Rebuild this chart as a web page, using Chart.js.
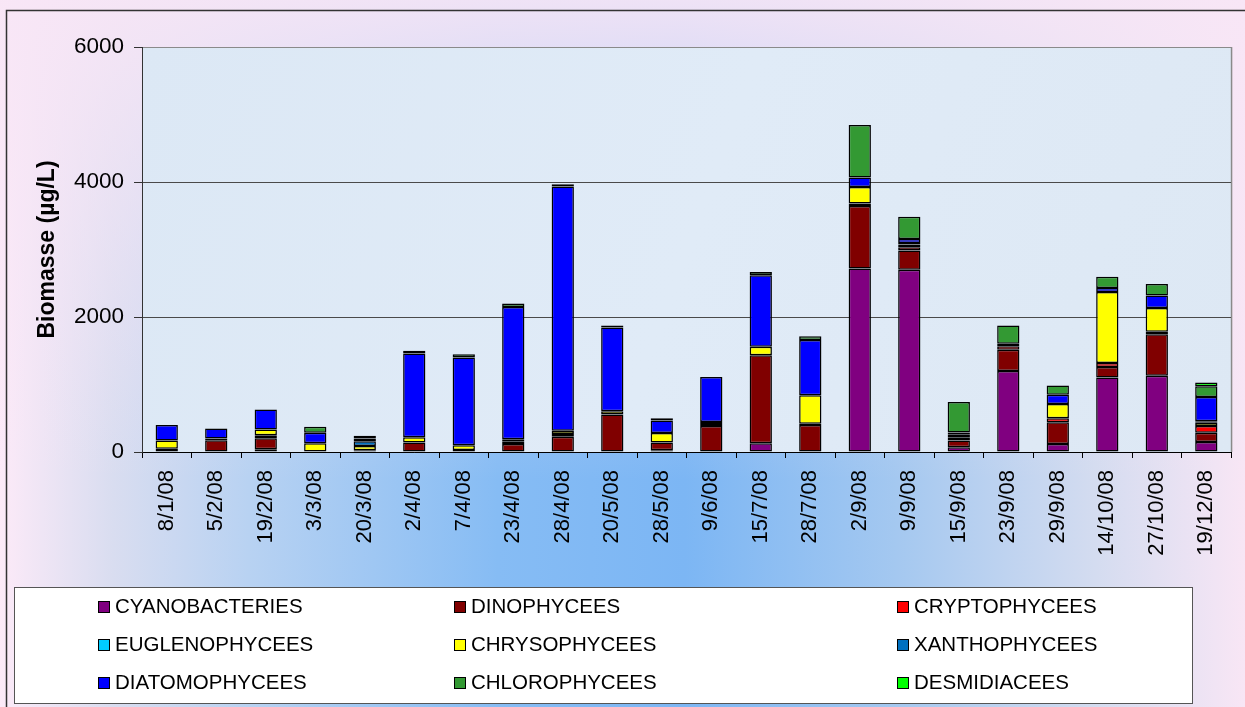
<!DOCTYPE html>
<html><head><meta charset="utf-8">
<script src="https://cdn.jsdelivr.net/npm/chart.js@4"></script>
<style>html,body{margin:0;padding:0;background:#fff}canvas{display:block}</style>
</head><body>
<canvas id="c" width="1245" height="707"></canvas>
<script>
const categories = ['8/1/08','5/2/08','19/2/08','3/3/08','20/3/08','2/4/08','7/4/08','23/4/08','28/4/08','20/5/08','28/5/08','9/6/08','15/7/08','28/7/08','2/9/08','9/9/08','15/9/08','23/9/08','29/9/08','14/10/08','27/10/08','19/12/08'];
const cyanobacteries  = [0,0,40,0,0,0,0,0,0,0,25,0,130,0,2720,2700,70,1200,120,1105,1130,150];
const dinophycees     = [0,175,165,0,25,140,30,120,225,555,115,385,1305,400,925,285,100,315,320,155,615,135];
const cryptophycees   = [50,25,45,0,0,0,0,40,40,0,0,30,0,20,35,50,40,50,60,60,35,100];
const euglenophycees  = [0,0,0,0,0,0,0,0,0,0,0,0,0,0,0,0,0,0,0,0,0,0];
const chrysophycees   = [120,0,85,130,65,80,70,30,50,50,140,30,125,420,245,40,0,40,210,1050,355,50];
const xanthophycees   = [0,0,0,0,70,0,0,0,0,0,0,0,0,0,0,20,45,0,0,0,0,20];
const diatomophycees  = [230,150,295,155,40,1240,1300,1960,3620,1240,185,665,1060,820,140,60,35,0,140,60,185,360];
const chlorophycees   = [0,0,0,90,40,40,50,50,30,30,35,0,45,55,780,330,450,270,135,165,170,160];
const desmidiacees    = [0,0,0,0,0,0,0,0,0,0,0,0,0,0,0,0,0,0,0,0,0,55];
const seriesNames  = ['CYANOBACTERIES','DINOPHYCEES','CRYPTOPHYCEES','EUGLENOPHYCEES','CHRYSOPHYCEES','XANTHOPHYCEES','DIATOMOPHYCEES','CHLOROPHYCEES','DESMIDIACEES'];
const seriesValues = [cyanobacteries,dinophycees,cryptophycees,euglenophycees,chrysophycees,xanthophycees,diatomophycees,chlorophycees,desmidiacees];
const seriesColors = ['#800080','#800000','#FF0000','#00CCFF','#FFFF00','#0070C0','#0000FF','#339933','#00FF00'];
const yTickValues = [0,2000,4000,6000];

const FONT = '"Liberation Sans", Arial, sans-serif';

const bgPlugin = {
  id: 'bg',
  beforeDraw(chart) {
    const ctx = chart.ctx, W = chart.width, H = chart.height;
    ctx.save();
    const g = ctx.createLinearGradient(0, 0, W, 0);
    g.addColorStop(0, '#FCEAF8');
    g.addColorStop(0.09, '#D9DDF0');
    g.addColorStop(0.2, '#B8D2F2');
    g.addColorStop(0.4, '#86BCF4');
    g.addColorStop(0.55, '#7CB6F4');
    g.addColorStop(0.72, '#A4C8F0');
    g.addColorStop(0.88, '#D4DCF0');
    g.addColorStop(1, '#F8E6F5');
    ctx.fillStyle = g;
    ctx.fillRect(0, 0, W, H);
    const v = ctx.createLinearGradient(0, 0, 0, 480);
    v.addColorStop(0, 'rgba(248,230,246,0.92)');
    v.addColorStop(0.5, 'rgba(248,230,246,0.45)');
    v.addColorStop(1, 'rgba(248,230,246,0)');
    ctx.fillStyle = v;
    ctx.fillRect(0, 0, W, 480);
    // outer frame
    ctx.strokeStyle = '#333';
    ctx.lineWidth = 1.5;
    ctx.strokeRect(6.5, 10.5, 1300, 760);
    // plot background
    const a = chart.chartArea;
    const pg = ctx.createLinearGradient(a.left, a.top, a.right, a.bottom);
    pg.addColorStop(0, '#DCE8F5');
    pg.addColorStop(0.5, '#E0EBF7');
    pg.addColorStop(1, '#DDE8F4');
    ctx.fillStyle = pg;
    ctx.fillRect(a.left, a.top, a.right - a.left, a.bottom - a.top);
    ctx.strokeStyle = '#8a8a8a';
    ctx.lineWidth = 1.5;
    ctx.beginPath();
    ctx.moveTo(a.right + 0.5, a.top);
    ctx.lineTo(a.right + 0.5, a.bottom);
    ctx.stroke();
    ctx.restore();
  },
  afterDraw(chart) {
    const ctx = chart.ctx;
    ctx.save();
    ctx.fillStyle = '#fff';
    ctx.fillRect(14, 587, 1178, 116);
    ctx.strokeStyle = '#555';
    ctx.lineWidth = 1;
    ctx.strokeRect(14.5, 587.5, 1178, 116);
    const textX = [115, 471, 914];
    const baseY = [613, 651, 689];
    ctx.font = '20.5px ' + FONT;
    ctx.textBaseline = 'alphabetic';
    ctx.textAlign = 'left';
    chart.data.datasets.forEach((ds, i) => {
      const col = i % 3, row = Math.floor(i / 3);
      const tx = textX[col], by = baseY[row];
      ctx.fillStyle = ds.backgroundColor;
      ctx.fillRect(tx - 17, by - 12, 12, 12);
      ctx.strokeStyle = '#000';
      ctx.lineWidth = 1;
      ctx.strokeRect(tx - 16.5, by - 11.5, 11, 11);
      ctx.fillStyle = '#000';
      ctx.fillText(ds.label, tx, by);
    });
    ctx.restore();
  }
};

const datasets = seriesNames.map((name, i) => ({
  label: name,
  data: seriesValues[i].map(v => v === 0 ? null : v),
  backgroundColor: seriesColors[i],
  borderColor: '#000',
  borderWidth: 1.5,
  borderSkipped: false,
  barPercentage: 0.45,
  categoryPercentage: 1,
  stack: 's'
}));

new Chart(document.getElementById('c'), {
  type: 'bar',
  data: { labels: categories, datasets },
  options: {
    responsive: false,
    animation: false,
    devicePixelRatio: 1,
    layout: { padding: { left: 6, top: 47, right: 13, bottom: 120 } },
    plugins: { legend: { display: false }, tooltip: { enabled: false } },
    scales: {
      x: {
        stacked: true,
        grid: { display: true, offset: true, drawOnChartArea: false, drawTicks: true, tickLength: 6, color: '#000' },
        border: { display: true, color: '#000', width: 1 },
        ticks: { color: '#000', font: { family: FONT, size: 22 }, minRotation: 90, maxRotation: 90, padding: 12, autoSkip: false },
        afterFit(s) { s.height = 135; }
      },
      y: {
        stacked: true,
        min: 0, max: 6000,
        afterBuildTicks(s) { s.ticks = yTickValues.map(v => ({ value: v })); },
        ticks: { color: '#000', font: { family: FONT, size: 22.5 }, padding: 10, callback: v => String(v) },
        grid: {
          color: c => (c.tick && c.tick.value === 6000) ? '#8a8a8a' : '#4a4a4a',
          tickColor: '#333', tickLength: 8, lineWidth: 1
        },
        border: { display: true, color: '#333', width: 1 },
        title: { display: true, text: 'Biomasse (µg/L)', color: '#000', font: { family: FONT, size: 23, weight: 'bold' }, padding: { top: 28, bottom: 0 } },
        afterFit(s) { s.width = 136; }
      }
    }
  },
  plugins: [bgPlugin]
});
</script>
</body></html>
